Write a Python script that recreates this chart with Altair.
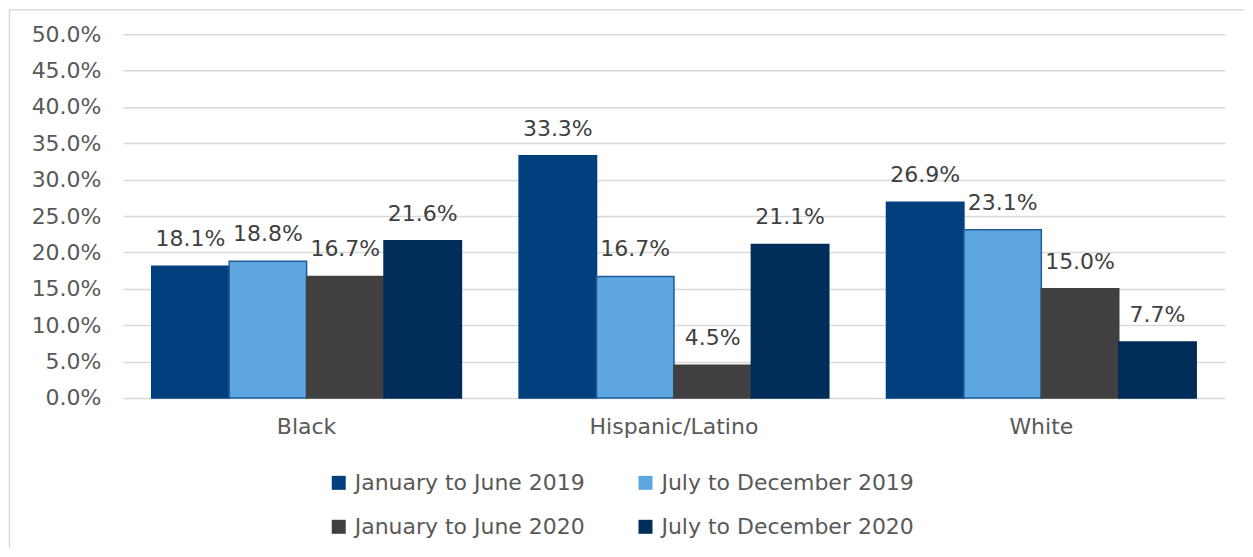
import altair as alt
import pandas as pd

categories = ["Black", "Hispanic/Latino", "White"]
series = ["January to June 2019", "July to December 2019",
          "January to June 2020", "July to December 2020"]
values = {
    "January to June 2019": [18.1, 33.3, 26.9],
    "July to December 2019": [18.8, 16.7, 23.1],
    "January to June 2020": [16.7, 4.5, 15.0],
    "July to December 2020": [21.6, 21.1, 7.7],
}
colors = ["#00407E", "#5EA6E0", "#404040", "#002D59"]
strokes = ["#00407E", "#1F5C99", "#404040", "#002D59"]
y_ticks = [i * 0.05 for i in range(11)]

rows = []
for si, s in enumerate(series):
    for ci, c in enumerate(categories):
        rows.append({"category": c, "series": s, "order": si,
                     "value": values[s][ci] / 100.0})
df = pd.DataFrame(rows)

FONT = "DejaVu Sans"

x = alt.X("category:N", sort=categories, title=None,
          scale=alt.Scale(paddingInner=0.157, paddingOuter=0.0785),
          axis=alt.Axis(labelAngle=0, labelFontSize=22, labelColor="#595959",
                        labelFont=FONT, labelPadding=19, ticks=False, domain=False))
xoff = alt.XOffset("series:N", sort=series, scale=alt.Scale(paddingInner=0, paddingOuter=0))
y = alt.Y("value:Q", title=None,
          scale=alt.Scale(domain=[0, 0.5], nice=False),
          axis=alt.Axis(values=y_ticks, format=".1%", labelFontSize=22,
                        labelColor="#595959", labelFont=FONT, labelPadding=22,
                        ticks=False, domain=False, gridColor="#D9D9D9",
                        gridWidth=1.5, minExtent=100, maxExtent=100))

bars = alt.Chart(df).mark_bar(strokeWidth=1.5).encode(
    x=x, xOffset=xoff, y=y,
    color=alt.Color("series:N", sort=series,
                    scale=alt.Scale(domain=series, range=colors),
                    legend=alt.Legend(title=None, orient="none", legendX=205, legendY=438,
                                      direction="horizontal",
                                      columns=2, columnPadding=49, rowPadding=22,
                                      symbolType="square", symbolSize=196,
                                      symbolStrokeWidth=0, labelFontSize=22,
                                      labelFont=FONT, labelColor="#595959",
                                      labelOffset=5, labelLimit=400)),
    stroke=alt.Stroke("series:N", sort=series,
                      scale=alt.Scale(domain=series, range=strokes), legend=None),
)

labels = alt.Chart(df).mark_text(baseline="bottom", dy=-15, fontSize=22,
                                  font=FONT, color="#404040").encode(
    x=x, xOffset=xoff, y=y,
    text=alt.Text("value:Q", format=".1%"),
)

one = pd.DataFrame({"a": [0]})
top_line = alt.Chart(one).mark_rule(stroke="#D9D9D9", strokeWidth=1.5).encode(
    x=alt.value(-113.5), x2=alt.value(1122), y=alt.value(-24.5))
left_line = alt.Chart(one).mark_rule(stroke="#D9D9D9", strokeWidth=1.5).encode(
    x=alt.value(-113.5), y=alt.value(-24.5), y2=alt.value(514))

chart = alt.layer(top_line, left_line, bars, labels).properties(
    width=1103, height=364, background="white",
    padding={"left": 0, "top": 0, "right": 0, "bottom": 0},
).configure_view(stroke=None)

chart.save("out.html", embed_options={"renderer": "svg", "actions": False})
